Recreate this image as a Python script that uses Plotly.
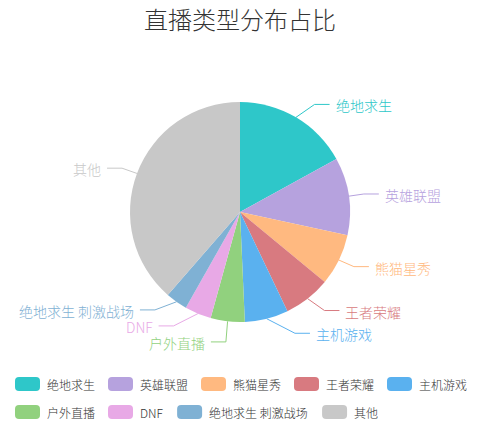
import math
import plotly.graph_objects as go

# ---- data ----
categories = ["绝地求生", "英雄联盟", "熊猫星秀", "王者荣耀", "主机游戏",
              "户外直播", "DNF", "绝地求生 刺激战场", "其他"]
values = [17.0, 11.4, 7.6, 6.9, 6.4, 5.0, 3.9, 3.2, 38.6]
colors = ["#2ec7c9", "#b6a2de", "#ffb980", "#d87a80", "#5ab1ef",
          "#91d17e", "#e8a9e6", "#7fb1d4", "#c8c8c8"]
title_text = "直播类型分布占比"

# ---- layout geometry (pixels) ----
W, H = 480, 425
CX, CY, R = 240, 212, 110
LEN1, LEN2 = 15, 15
FONT = "Noto Sans CJK SC, Microsoft YaHei, sans-serif"


def px(x):
    return x / W


def py(y):
    return 1 - y / H


fig = go.Figure(go.Pie(
    labels=categories, values=values, sort=False, direction="clockwise",
    rotation=0, textinfo="none", hoverinfo="label+percent",
    marker=dict(colors=colors, line=dict(width=0)),
    domain=dict(x=[px(CX - R), px(CX + R)], y=[py(CY + R), py(CY - R)]),
    showlegend=False,
))

shapes = []
annotations = []

# ---- outside labels with leader lines (computed from values) ----
total = sum(values)
cum = 0.0
items = []
for name, v, c in zip(categories, values, colors):
    mid = (cum + v / 2) / total * 2 * math.pi
    cum += v
    s, co = math.sin(mid), -math.cos(mid)
    p0 = (CX + R * s, CY + R * co)
    p1 = (CX + (R + LEN1) * s, CY + (R + LEN1) * co)
    d = 1 if s >= 0 else -1
    items.append(dict(name=name, color=c, p0=p0, y=p1[1], d=d,
                      x3orig=p1[0] + d * LEN2))

# symmetric spreading of overlapping label clusters
MIN_GAP = 16
for side in (1, -1):
    lst = sorted([it for it in items if it["d"] == side], key=lambda t: t["y"])
    changed = True
    while changed:
        changed = False
        clusters = [[lst[0]]] if lst else []
        for it in lst[1:]:
            prev = clusters[-1][-1]
            if it["y"] - prev["y"] < MIN_GAP - 1e-6:
                clusters[-1].append(it)
            else:
                clusters.append([it])
        for cl in clusters:
            if len(cl) > 1:
                mean = sum(t["y"] for t in cl) / len(cl)
                start = mean - MIN_GAP * (len(cl) - 1) / 2
                for k, t in enumerate(cl):
                    ny = start + k * MIN_GAP
                    if abs(ny - t["y"]) > 1e-6:
                        changed = True
                    t["y"] = ny

for it in items:
    dy = abs(it["y"] - CY)
    if dy < R + LEN1:
        dx = math.sqrt((R + LEN1 + LEN2) ** 2 - dy ** 2)
    else:
        dx = abs(it["x3orig"] - CX)
    x3 = CX + it["d"] * dx
    x2 = x3 - it["d"] * LEN2
    y = it["y"]
    x0, y0 = it["p0"]
    shapes.append(dict(
        type="path", xref="paper", yref="paper",
        path=f"M{px(x0)},{py(y0)} L{px(x2)},{py(y)} L{px(x3)},{py(y)}",
        line=dict(color=it["color"], width=1)))
    annotations.append(dict(
        x=px(x3 + it["d"] * 4), y=py(y + 1), xref="paper", yref="paper",
        text=it["name"], showarrow=False,
        xanchor="left" if it["d"] > 0 else "right", yanchor="middle",
        font=dict(family=FONT, size=14, color=it["color"], weight=300)))

# ---- legend (two rows of rounded swatches) ----
def text_w(t, size=12):
    w = 0
    for ch in t:
        if ord(ch) > 0x2E80:
            w += size
        elif ch == " ":
            w += size * 0.33
        else:
            w += size * 0.67
    return w

ICON_W, ICON_H, GAP_T, GAP_I = 25, 14, 5, 15
rows, cur, x = [], [], 0
for name, c in zip(categories, colors):
    iw = ICON_W + GAP_T + text_w(name)
    if cur and x + iw > W - 30:
        rows.append((cur, x - GAP_I))
        cur, x = [], 0
    cur.append((name, c, x))
    x += iw + GAP_I
rows.append((cur, x - GAP_I))
left = (W - max(r[1] for r in rows)) / 2
row_y = [384, 412]


def rrect(x0, y0, w, h, r):
    pts = [
        f"M{px(x0 + r)},{py(y0)}", f"L{px(x0 + w - r)},{py(y0)}",
        f"Q{px(x0 + w)},{py(y0)} {px(x0 + w)},{py(y0 + r)}",
        f"L{px(x0 + w)},{py(y0 + h - r)}",
        f"Q{px(x0 + w)},{py(y0 + h)} {px(x0 + w - r)},{py(y0 + h)}",
        f"L{px(x0 + r)},{py(y0 + h)}",
        f"Q{px(x0)},{py(y0 + h)} {px(x0)},{py(y0 + h - r)}",
        f"L{px(x0)},{py(y0 + r)}",
        f"Q{px(x0)},{py(y0)} {px(x0 + r)},{py(y0)} Z",
    ]
    return " ".join(pts)


for (row, _), yc in zip(rows, row_y):
    for name, c, xo in row:
        xi = left + xo
        shapes.append(dict(type="path", xref="paper", yref="paper",
                           path=rrect(xi, yc - ICON_H / 2, ICON_W, ICON_H, 4),
                           fillcolor=c, line=dict(width=0)))
        annotations.append(dict(
            x=px(xi + ICON_W + GAP_T), y=py(yc), xref="paper", yref="paper",
            text=name, showarrow=False, xanchor="left", yanchor="middle",
            font=dict(family=FONT, size=12, color="#333", weight=300)))

# title as an annotation so it is not clipped at the top edge
annotations.append(dict(
    x=0.5, y=py(19), xref="paper", yref="paper", text=title_text,
    showarrow=False, xanchor="center", yanchor="middle",
    font=dict(family=FONT, size=24, color="#333", weight=300)))

fig.update_layout(
    width=W, height=H, margin=dict(l=0, r=0, t=0, b=0),
    paper_bgcolor="white", plot_bgcolor="white",
    shapes=shapes, annotations=annotations,
)

fig.write_html("out.html")
